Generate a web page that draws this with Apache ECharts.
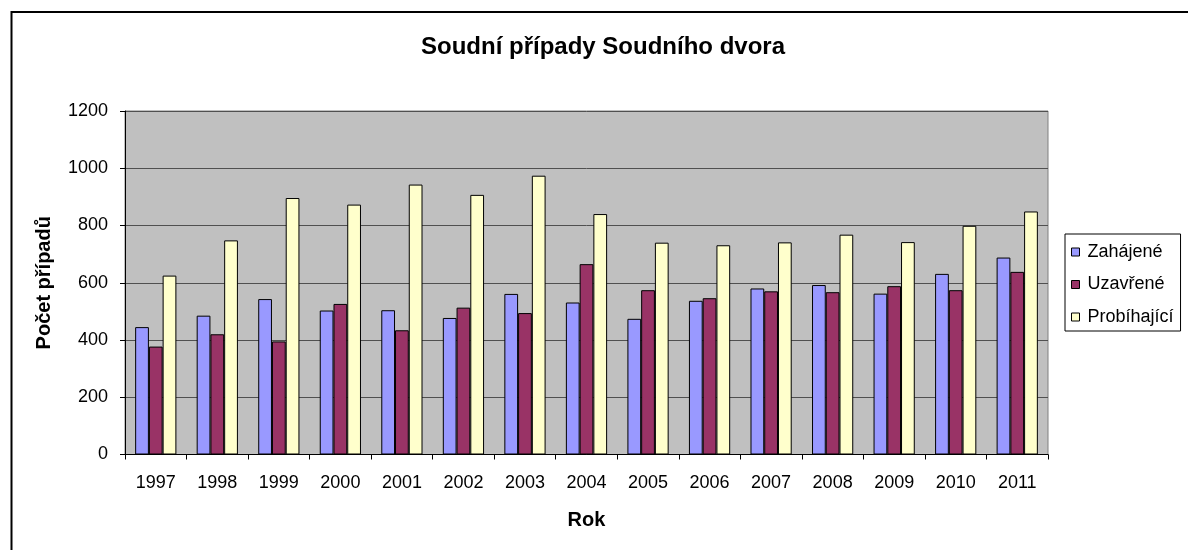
<!DOCTYPE html>
<html>
<head>
<meta charset="utf-8">
<script src="https://cdn.jsdelivr.net/npm/echarts@6/dist/echarts.min.js"></script>
<style>
  html, body { margin: 0; padding: 0; background: #fff; }
  #chart { width: 1188px; height: 550px; }
</style>
</head>
<body>
<div id="chart"></div>
<script>
// Cases of the Court of Justice, 1997–2011
const years = ['1997', '1998', '1999', '2000', '2001', '2002', '2003', '2004',
               '2005', '2006', '2007', '2008', '2009', '2010', '2011'];
const zahajene = [445, 485, 543, 503, 504, 477, 561, 531, 474, 537, 580, 592, 562, 631, 688];
const uzavrene = [377, 420, 395, 526, 434, 513, 494, 665, 574, 546, 570, 567, 588, 574, 638];
const probihajici = [625, 748, 896, 873, 943, 907, 974, 840, 740, 731, 741, 768, 742, 799, 849];
const yTicks = [0, 200, 400, 600, 800, 1000, 1200];

const FONT = '"Liberation Sans", Arial, sans-serif';

function barSeries(name, data, color) {
  return {
    name: name,
    type: 'bar',
    data: data,
    barGap: '0%',
    barCategoryGap: '33%',
    itemStyle: { color: color, borderColor: '#000', borderWidth: 1 },
    emphasis: { disabled: true }
  };
}

const chart = echarts.init(document.getElementById('chart'), null, { renderer: 'canvas' });
chart.setOption({
  animation: false,
  textStyle: { fontFamily: FONT },
  graphic: [
    {
      type: 'rect',
      shape: { x: 11.5, y: 12, width: 1300, height: 700 },
      style: { fill: 'none', stroke: '#000', lineWidth: 2 },
      silent: true
    },
    {
      type: 'text',
      x: 603, y: 47,
      style: {
        text: 'Soudní případy Soudního dvora',
        fontFamily: FONT, fontSize: 24, fontWeight: 'bold', fill: '#000',
        align: 'center', verticalAlign: 'middle'
      },
      silent: true
    }
  ],
  legend: {
    orient: 'vertical',
    left: 1065,
    top: 234,
    padding: [8, 7, 4, 6],
    itemGap: 12.5,
    itemWidth: 8,
    itemHeight: 8,
    icon: 'rect',
    borderColor: '#000',
    borderWidth: 1,
    backgroundColor: '#fff',
    selectedMode: false,
    textStyle: { fontFamily: FONT, fontSize: 18, color: '#000', lineHeight: 20, padding: [0, 0, 0, 3] },
    data: [
      { name: 'Zahájené', itemStyle: { borderColor: '#000', borderWidth: 1 } },
      { name: 'Uzavřené', itemStyle: { borderColor: '#000', borderWidth: 1 } },
      { name: 'Probíhající', itemStyle: { borderColor: '#000', borderWidth: 1 } }
    ]
  },
  grid: {
    left: 125, right: 140, top: 111, bottom: 95.5,
    show: true,
    backgroundColor: '#C0C0C0',
    borderColor: '#808080',
    borderWidth: 1
  },
  xAxis: {
    type: 'category',
    data: years,
    name: 'Rok',
    nameLocation: 'middle',
    nameGap: 56,
    nameTextStyle: { fontFamily: FONT, fontSize: 20, fontWeight: 'bold', color: '#000' },
    axisLine: { lineStyle: { color: '#000', width: 1 } },
    axisTick: { show: true, length: 5, lineStyle: { color: '#000' } },
    axisLabel: { fontFamily: FONT, fontSize: 18, color: '#000', margin: 20 },
    splitLine: { show: false }
  },
  yAxis: {
    type: 'value',
    min: yTicks[0],
    max: yTicks[yTicks.length - 1],
    interval: yTicks[1] - yTicks[0],
    name: 'Počet případů',
    nameLocation: 'middle',
    nameGap: 71,
    nameTextStyle: { fontFamily: FONT, fontSize: 20, fontWeight: 'bold', color: '#000' },
    axisLine: { show: true, lineStyle: { color: '#000', width: 1 } },
    axisTick: { show: true, length: 5, lineStyle: { color: '#000' } },
    axisLabel: {
      fontFamily: FONT, fontSize: 18, color: '#000', margin: 17,
      formatter: function (v) { return String(v); }
    },
    splitLine: { show: true, lineStyle: { color: '#505050', width: 1 } }
  },
  series: [
    barSeries('Zahájené', zahajene, '#9999FF'),
    barSeries('Uzavřené', uzavrene, '#993366'),
    barSeries('Probíhající', probihajici, '#FFFFCC')
  ]
});
</script>
</body>
</html>
